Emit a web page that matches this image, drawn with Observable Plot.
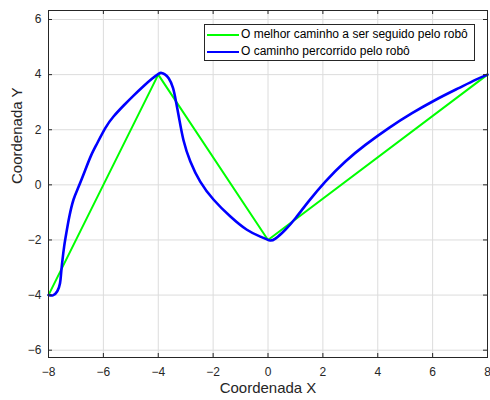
<!DOCTYPE html>
<html>
<head>
<meta charset="utf-8">
<script src="https://cdn.jsdelivr.net/npm/d3@7"></script>
<script src="https://cdn.jsdelivr.net/npm/@observablehq/plot@0.6"></script>
<style>
  body { margin: 0; background: #fff; }
  #wrap { position: relative; width: 490px; height: 400px; font-family: "Liberation Sans", Arial, sans-serif; }
  #legend { position: absolute; left: 204px; top: 24px; width: 269px; height: 35px; border: 1px solid #262626; background: #fff; box-sizing: content-box; }
  .entry { position: absolute; left: 0; height: 17px; width: 100%; }
  .swatch { position: absolute; left: 2px; width: 32px; top: 8px; }
  .label { position: absolute; left: 36px; top: 0; font-size: 12px; line-height: 17px; color: #000; white-space: nowrap; }
</style>
</head>
<body>
<div id="wrap"></div>
<script>
// Series names and colours
const seriesNames = ["O melhor caminho a ser seguido pelo robô", "O caminho percorrido pelo robô"];
const seriesColors = ["#00ff00", "#0000ff"];

// Best path (green)
const bestX = [-8, -4, 0, 8];
const bestY = [-4, 4, -2, 4];

// Path travelled (blue)
const pathX = [-8.00, -7.84, -7.68, -7.58, -7.54, -7.49, -7.43, -7.35, -7.24, -7.09, -6.90, -6.66, -6.45, -6.23, -5.93, -5.63, -5.26, -4.90, -4.54, -4.23, -3.99, -3.88, -3.76, -3.62, -3.46, -3.34, -3.24, -3.08, -2.83, -2.47, -1.98, -1.37, -0.77, -0.28, -0.04, 0.08, 0.27, 0.63, 1.00, 1.48, 2.09, 2.82, 3.55, 4.40, 5.25, 6.10, 6.95, 7.56, 8.00];
const pathY = [-4.00, -4.01, -3.86, -3.57, -3.20, -2.72, -2.24, -1.75, -1.15, -0.54, -0.06, 0.54, 1.06, 1.50, 2.06, 2.48, 2.88, 3.24, 3.58, 3.85, 4.03, 4.06, 4.01, 3.87, 3.51, 2.95, 2.42, 1.62, 0.85, 0.12, -0.54, -1.15, -1.63, -1.88, -1.98, -2.02, -1.95, -1.63, -1.21, -0.60, 0.12, 0.85, 1.45, 2.06, 2.60, 3.08, 3.51, 3.81, 4.00];

// Ticks
const xTicks = [-8, -6, -4, -2, 0, 2, 4, 6, 8];
const yTicks = [-6, -4, -2, 0, 2, 4, 6];
const xLabel = "Coordenada X";
const yLabel = "Coordenada Y";

const best = bestX.map((x, i) => ({x, y: bestY[i]}));
const path = pathX.map((x, i) => ({x, y: pathY[i]}));

const W = 490, H = 400, mL = 48, mR = 3, mT = 10, mB = 43;
const innerW = W - mL - mR, innerH = H - mT - mB;
const axisColor = "#262626";

const chart = Plot.plot({
  width: W, height: H,
  marginLeft: mL, marginRight: mR, marginTop: mT, marginBottom: mB,
  style: { fontFamily: "'Liberation Sans', Arial, sans-serif", background: "#fff" },
  x: { domain: [-8, 8], ticks: xTicks },
  y: { domain: [-6.265, 6.327], ticks: yTicks },
  marks: [
    Plot.gridX(xTicks, { stroke: "#dcdcdc", strokeOpacity: 1 }),
    Plot.gridY(yTicks, { stroke: "#dcdcdc", strokeOpacity: 1 }),
    Plot.line(best, { x: "x", y: "y", stroke: seriesColors[0], strokeWidth: 2 }),
    Plot.line(path, { x: "x", y: "y", stroke: seriesColors[1], strokeWidth: 2.6, curve: "natural", strokeLinejoin: "round" }),
    // inward ticks on all four sides
    Plot.ruleX(xTicks, { stroke: axisColor, insetTop: innerH - 4 }),
    Plot.ruleX(xTicks, { stroke: axisColor, insetBottom: innerH - 4 }),
    Plot.ruleY(yTicks, { stroke: axisColor, insetRight: innerW - 4 }),
    Plot.ruleY(yTicks, { stroke: axisColor, insetLeft: innerW - 4 }),
    Plot.frame({ stroke: axisColor }),
    Plot.axisX(xTicks, { anchor: "bottom", tickSize: 0, tickPadding: 10, fontSize: 12, color: axisColor, label: null }),
    Plot.axisY(yTicks, { anchor: "left", tickSize: 0, tickPadding: 7, fontSize: 12, color: axisColor, label: null }),
    Plot.text([xLabel], { frameAnchor: "bottom", dy: 35, fontSize: 15, fill: axisColor }),
    Plot.text([yLabel], { frameAnchor: "left", dx: -31, rotate: -90, fontSize: 15, fill: axisColor })
  ]
});

const wrap = document.getElementById("wrap");
wrap.appendChild(chart);

const legend = document.createElement("div");
legend.id = "legend";
seriesNames.forEach((name, i) => {
  const e = document.createElement("div");
  e.className = "entry";
  e.style.top = (1 + i * 17) + "px";
  const sw = document.createElement("div");
  sw.className = "swatch";
  sw.style.borderTop = (i === 0 ? 2 : 2.6) + "px solid " + seriesColors[i];
  const lb = document.createElement("div");
  lb.className = "label";
  lb.textContent = name;
  e.appendChild(sw);
  e.appendChild(lb);
  legend.appendChild(e);
});
wrap.appendChild(legend);
</script>
</body>
</html>
